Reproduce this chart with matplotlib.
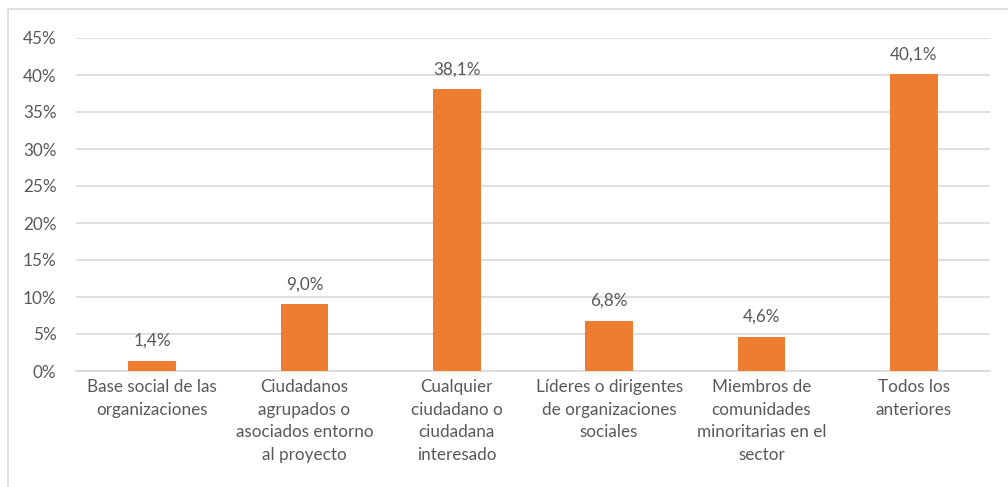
import matplotlib
matplotlib.use('agg')
import matplotlib.pyplot as plt
from matplotlib.patches import Rectangle
from matplotlib.ticker import FuncFormatter, MultipleLocator

# data
categories = [
    "Base social de las\norganizaciones",
    "Ciudadanos\nagrupados o\nasociados entorno\nal proyecto",
    "Cualquier\nciudadano o\nciudadana\ninteresado",
    "Líderes o dirigentes\nde organizaciones\nsociales",
    "Miembros de\ncomunidades\nminoritarias en el\nsector",
    "Todos los\nanteriores",
]
values = [1.4, 9.0, 38.1, 6.8, 4.6, 40.1]

bar_color = '#ED7D31'
text_color = '#595959'
grid_color = '#D9D9D9'

plt.rcParams['font.family'] = ['Lato', 'DejaVu Sans']
plt.rcParams['font.size'] = 12

fig = plt.figure(figsize=(10.08, 4.87), dpi=100)
ax = fig.add_axes([76/1008, 1 - 371/487, 914/1008, 333/487])

x = range(len(values))
ax.bar(x, values, width=0.315, color=bar_color, zorder=3)

for xi, v in zip(x, values):
    ax.text(xi, v + 1.6, f"{v:.1f}%".replace('.', ','), ha='center', va='bottom',
            color=text_color, fontsize=12.3)

ax.set_xlim(-0.5, len(values) - 0.5)
ax.set_ylim(0, 45)
ax.yaxis.set_major_locator(MultipleLocator(5))
ax.yaxis.set_major_formatter(FuncFormatter(lambda v, p: f"{v:.0f}%"))
ax.grid(axis='y', color=grid_color, linewidth=1.2, zorder=0)
ax.set_xticks(list(x))
ax.set_xticklabels(categories, linespacing=1.5)
ax.tick_params(axis='both', length=0, colors=text_color, labelsize=12.3)
ax.tick_params(axis='x', pad=6)
ax.tick_params(axis='y', pad=14)
for s in ['top', 'right', 'left']:
    ax.spines[s].set_visible(False)
ax.spines['bottom'].set_color(grid_color)
ax.spines['bottom'].set_linewidth(1.2)

# outer chart border
fig.patches.append(Rectangle((8/1008, -0.01), 1.1, 1 - 9/487 + 0.01, transform=fig.transFigure,
                             fill=False, edgecolor='#D9D9D9', linewidth=1.2))

fig.savefig('out.png', dpi=100)
